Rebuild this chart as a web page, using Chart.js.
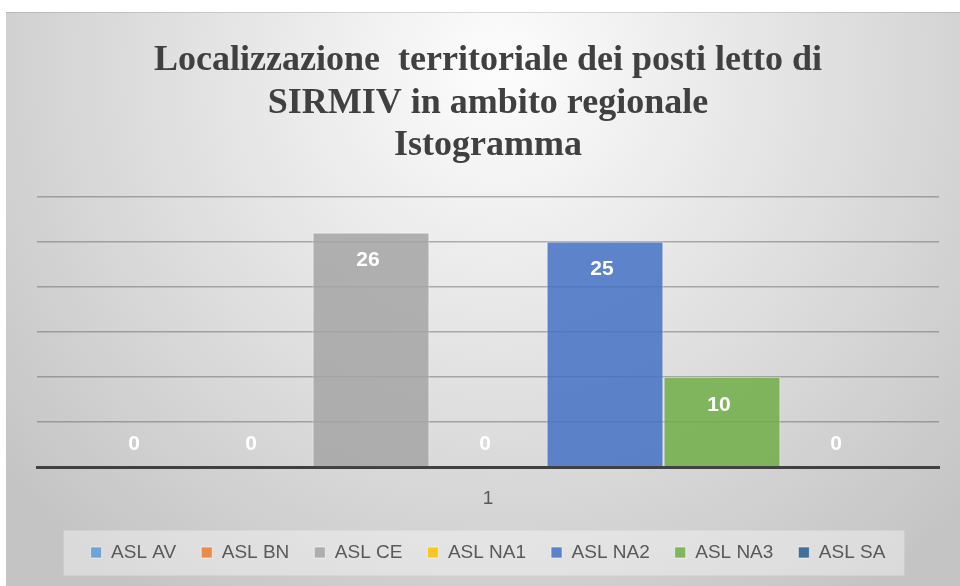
<!DOCTYPE html>
<html>
<head>
<meta charset="utf-8">
<script src="https://cdn.jsdelivr.net/npm/chart.js@4.4.1/dist/chart.umd.min.js"></script>
<style>
  html, body { margin: 0; padding: 0; background: #fff; }
  #wrap { width: 960px; height: 586px; position: relative; }
</style>
</head>
<body>
<div id="wrap"><canvas id="myChart"></canvas></div>
<script>
// categorie e serie
const categories = ['1'];
const seriesNames = ['ASL AV', 'ASL BN', 'ASL CE', 'ASL NA1', 'ASL NA2', 'ASL NA3', 'ASL SA'];
const seriesValues = [0, 0, 26, 0, 25, 10, 0];
const seriesColors = ['#5B9BD5', '#ED7D31', '#A5A5A5', '#FFC000', '#4472C4', '#70AD47', '#255E91'];
const yMax = 30;
const yStep = 5;

const titleLines = ['Localizzazione  territoriale dei posti letto di', 'SIRMIV in ambito regionale', 'Istogramma'];

// hex -> rgba con trasparenza
function withAlpha(hex, a) {
    const n = parseInt(hex.slice(1), 16);
    return `rgba(${(n >> 16) & 255}, ${(n >> 8) & 255}, ${n & 255}, ${a})`;
}

// sfondo sfumato e riquadro legenda
const backgroundPlugin = {
    id: 'background',
    beforeDraw(chart) {
        const ctx = chart.ctx;
        const w = chart.width, h = chart.height;
        ctx.save();
        ctx.fillStyle = '#ffffff';
        ctx.fillRect(0, 0, w, h);
        const g = ctx.createRadialGradient(500, 70, 0, 500, 70, 640);
        g.addColorStop(0, '#fdfdfd');
        g.addColorStop(1, '#c4c4c4');
        ctx.fillStyle = g;
        ctx.fillRect(6, 12, w - 6, h - 12);
        ctx.strokeStyle = 'rgba(0,0,0,0.12)';
        ctx.lineWidth = 1;
        ctx.beginPath();
        ctx.moveTo(6, 12.5);
        ctx.lineTo(w, 12.5);
        ctx.stroke();

        const boxes = chart.legend.legendHitBoxes;
        if (boxes && boxes.length) {
            const first = boxes[0], last = boxes[boxes.length - 1];
            const cy = first.top + first.height / 2;
            ctx.fillStyle = 'rgba(255,255,255,0.38)';
            ctx.fillRect(first.left - 27, cy - 22, (last.left + last.width + 19) - (first.left - 27), 45);
        }
        ctx.restore();
    }
};

// etichette dei valori
const valueLabelsPlugin = {
    id: 'valueLabels',
    afterDatasetsDraw(chart) {
        const ctx = chart.ctx;
        ctx.save();
        ctx.fillStyle = '#ffffff';
        ctx.font = 'bold 21px "Liberation Sans", Arial, sans-serif';
        ctx.textAlign = 'center';
        ctx.textBaseline = 'middle';
        chart.data.datasets.forEach((ds, i) => {
            const meta = chart.getDatasetMeta(i);
            meta.data.forEach((bar, j) => {
                const v = ds.data[j];
                const y = v > 0 ? bar.y + 28 : bar.base - 23;
                ctx.fillText(String(v), bar.x - 3, y);
            });
        });
        ctx.restore();
    }
};

const datasets = seriesNames.map((name, i) => ({
    label: name,
    data: [seriesValues[i]],
    backgroundColor: withAlpha(seriesColors[i], 0.85),
    borderColor: 'rgba(255,255,255,0.55)',
    borderWidth: 1,
    categoryPercentage: 0.908,
    barPercentage: 1.0
}));

const ctx = document.getElementById('myChart').getContext('2d');
new Chart(ctx, {
    type: 'bar',
    data: { labels: categories, datasets: datasets },
    plugins: [backgroundPlugin, valueLabelsPlugin],
    options: {
        responsive: true,
        maintainAspectRatio: false,
        animation: false,
        layout: { padding: { top: 12, left: 37, right: 21, bottom: 14 } },
        plugins: {
            tooltip: { enabled: false },
            title: {
                display: true,
                text: titleLines,
                color: '#404040',
                font: { family: '"Liberation Serif", "Times New Roman", serif', size: 36, weight: 'bold', lineHeight: 1.19 },
                padding: { top: 27, bottom: 29 }
            },
            legend: {
                position: 'bottom',
                labels: {
                    boxWidth: 11,
                    boxHeight: 11,
                    padding: 25,
                    color: '#595959',
                    font: { family: '"Liberation Sans", Arial, sans-serif', size: 19 }
                }
            }
        },
        scales: {
            x: {
                z: 1,
                grid: { display: false, drawTicks: false },
                border: { display: true, color: '#404040', width: 3 },
                ticks: {
                    color: '#595959',
                    padding: 20,
                    font: { family: '"Liberation Sans", Arial, sans-serif', size: 19 }
                },
                afterFit(scale) { scale.height = 51; }
            },
            y: {
                min: 0,
                max: yMax,
                ticks: { display: false, stepSize: yStep },
                grid: { color: 'rgba(90,90,90,0.45)', lineWidth: 1.5, drawTicks: false },
                border: { display: false }
            }
        }
    }
});
</script>
</body>
</html>
